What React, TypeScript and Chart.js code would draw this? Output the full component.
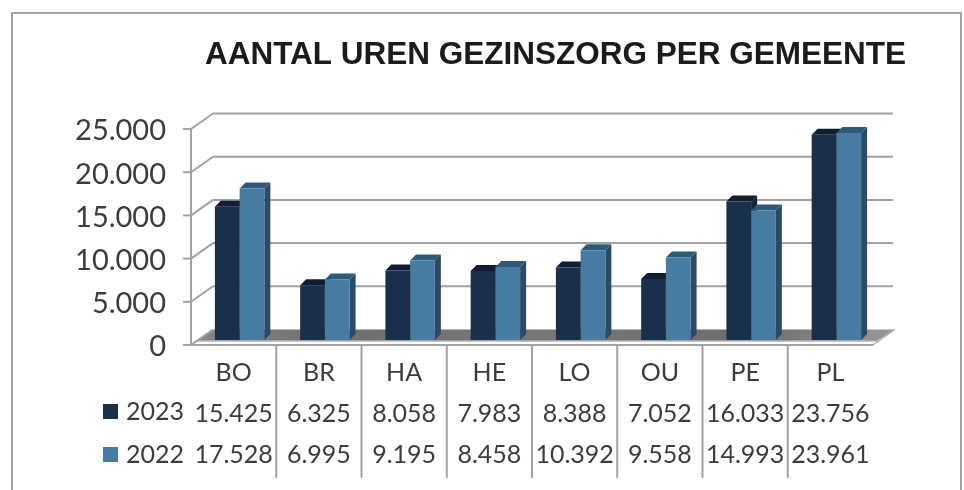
import React, { useEffect, useRef } from "react";
import { Chart, registerables } from "chart.js";

Chart.register(...registerables);

const categories = ["BO", "BR", "HA", "HE", "LO", "OU", "PE", "PL"];
const series2023 = [15425, 6325, 8058, 7983, 8388, 7052, 16033, 23756];
const series2022 = [17528, 6995, 9195, 8458, 10392, 9558, 14993, 23961];
const seriesNames = ["2023", "2022"];
const frontColors = ["#1a2f4a", "#477ba1"];
const sideColors = ["#12233a", "#2a4b68"];
const topColors = ["#0f1e31", "#2d5a78"];
const chartTitle = "AANTAL UREN GEZINSZORG PER GEMEENTE";

const fmt = (n: number) => String(n).replace(/\B(?=(\d{3})+$)/g, ".");

const FONT = "Lato";
const GRID = "#a2a2a2";
const BAR_DX = 6;
const BAR_DY = -5;
const BAR_D = 6;
const WALL_DX = 22;
const WALL_DY = -15.5;

const poly = (ctx: CanvasRenderingContext2D, pts: number[][], fill: string | CanvasGradient) => {
  ctx.beginPath();
  pts.forEach(([x, y], i) => (i ? ctx.lineTo(x, y) : ctx.moveTo(x, y)));
  ctx.closePath();
  ctx.fillStyle = fill;
  ctx.fill();
};

const line = (ctx: CanvasRenderingContext2D, x1: number, y1: number, x2: number, y2: number) => {
  ctx.beginPath();
  ctx.moveTo(x1, y1);
  ctx.lineTo(x2, y2);
  ctx.stroke();
};

const backdrop = {
  id: "backdrop",
  beforeDraw(chart: any) {
    const { ctx, chartArea: a, scales } = chart;
    const { x, y } = scales;
    ctx.save();
    ctx.fillStyle = "#ffffff";
    ctx.fillRect(0, 0, chart.width, chart.height);

    // outer frame
    ctx.strokeStyle = "#a4a4a4";
    ctx.lineWidth = 2;
    ctx.beginPath();
    ctx.moveTo(12, 490);
    ctx.lineTo(12, 13);
    ctx.lineTo(961, 13);
    ctx.lineTo(961, 490);
    ctx.stroke();

    // title
    ctx.fillStyle = "#1b1b1b";
    ctx.font = "bold 31.5px 'Liberation Sans'";
    ctx.textAlign = "center";
    ctx.textBaseline = "middle";
    ctx.fillText(chartTitle, 555.5, 55);

    // walls and gridlines
    ctx.strokeStyle = GRID;
    ctx.lineWidth = 2;
    y.ticks.forEach((t: any) => {
      const py = y.getPixelForValue(t.value);
      line(ctx, a.left - 8, py, a.left, py);
      if (t.value > 0) {
        line(ctx, a.left, py, a.left + WALL_DX, py + WALL_DY);
        line(ctx, a.left + WALL_DX, py + WALL_DY, a.right + WALL_DX - 2, py + WALL_DY);
      }
    });
    line(ctx, a.left, a.top, a.left, a.bottom);

    // floor
    const by = a.bottom + WALL_DY;
    const g = ctx.createLinearGradient(a.left, 0, a.right + WALL_DX, 0);
    g.addColorStop(0, "#8a8a8a");
    g.addColorStop(0.2, "#6e6e6e");
    g.addColorStop(0.5, "#777777");
    g.addColorStop(0.8, "#6c6c6c");
    g.addColorStop(1, "#9a9a9a");
    poly(ctx, [[a.left + WALL_DX, by], [a.right + WALL_DX, by], [a.right + 4, a.bottom - 4], [a.left + 6, a.bottom - 4]], g);
    ctx.lineWidth = 1.5;
    ctx.strokeStyle = "#b5b5b5";
    line(ctx, a.right, a.bottom, a.right + WALL_DX, by);
    line(ctx, a.left + 5, a.bottom - 4, a.right + 5, a.bottom - 4);
    ctx.strokeStyle = GRID;
    ctx.lineWidth = 2;
    line(ctx, a.left, a.bottom, a.left + WALL_DX, by);
    line(ctx, a.left - 8, a.bottom, a.right, a.bottom);

    // table dividers
    for (let i = 0; i < categories.length - 1; i++) {
      const px = (x.getPixelForValue(i) + x.getPixelForValue(i + 1)) / 2;
      line(ctx, px, a.bottom, px, 478);
    }

    // table legend keys
    ctx.font = `25px ${FONT}`;
    ctx.textAlign = "left";
    seriesNames.forEach((name, i) => {
      const cy = 412 + i * 43;
      ctx.fillStyle = frontColors[i];
      ctx.fillRect(103, cy - 8, 15, 15);
      ctx.fillStyle = "#3c3c3c";
      ctx.fillText(name, 126, cy);
    });
    ctx.restore();
  },
};

const bars3d = {
  id: "bars3d",
  beforeDatasetsDraw(chart: any) {
    const { ctx } = chart;
    ctx.save();
    ctx.translate(BAR_DX, BAR_DY);
    [0, 1].forEach((di) => {
      chart.getDatasetMeta(di).data.forEach((el: any) => {
        const { x, y, base, width } = el.getProps(["x", "y", "base", "width"], true);
        const l = x - width / 2;
        const r = x + width / 2;
        poly(ctx, [[r, y], [r + BAR_D, y - BAR_D], [r + BAR_D, base - BAR_D], [r, base]], sideColors[di]);
        poly(ctx, [[l, y], [l + BAR_D, y - BAR_D], [r + BAR_D, y - BAR_D], [r, y]], topColors[di]);
      });
    });
  },
  afterDatasetsDraw(chart: any) {
    chart.ctx.restore();
  },
};

export default function App() {
  const ref = useRef<HTMLCanvasElement>(null);
  useEffect(() => {
    const chart = new Chart(ref.current!, {
      type: "bar",
      data: {
        labels: categories,
        datasets: [
          { label: seriesNames[0], data: series2023, backgroundColor: frontColors[0], clip: false as any },
          { label: seriesNames[1], data: series2022, backgroundColor: frontColors[1], clip: false as any },
        ],
      },
      options: {
        responsive: false,
        animation: false,
        layout: { padding: { left: 0, top: 129, right: 91, bottom: 0 } },
        datasets: { bar: { categoryPercentage: 0.58, barPercentage: 1 } },
        plugins: { legend: { display: false }, title: { display: false }, tooltip: { enabled: false } },
        scales: {
          y: {
            min: 0,
            max: 25000,
            ticks: {
              stepSize: 5000,
              padding: 17,
              labelOffset: 2,
              color: "#3c3c3c",
              font: { family: FONT, size: 29 },
              callback: (v: any) => fmt(Number(v)),
            },
            grid: { display: false },
            border: { display: false },
            afterFit: (s: any) => {
              s.width = 191;
            },
          },
          x: {
            ticks: {
              autoSkip: false,
              maxRotation: 0,
              minRotation: 0,
              padding: -1,
              color: "#3c3c3c",
              font: { family: FONT, size: 25, lineHeight: "41px" as any },
              callback: (_v: any, i: number) => [categories[i], fmt(series2023[i]), fmt(series2022[i])],
            },
            grid: { display: false },
            border: { display: false },
            afterFit: (s: any) => {
              s.height = 145;
            },
          },
        },
      },
      plugins: [backdrop, bars3d],
    } as any);
    return () => chart.destroy();
  }, []);
  return (
    <div style={{ position: "absolute", left: 0, top: 0, width: 964, height: 490, overflow: "hidden", background: "#fff" }}>
      <canvas ref={ref} width={964} height={490} style={{ display: "block" }} />
    </div>
  );
}
